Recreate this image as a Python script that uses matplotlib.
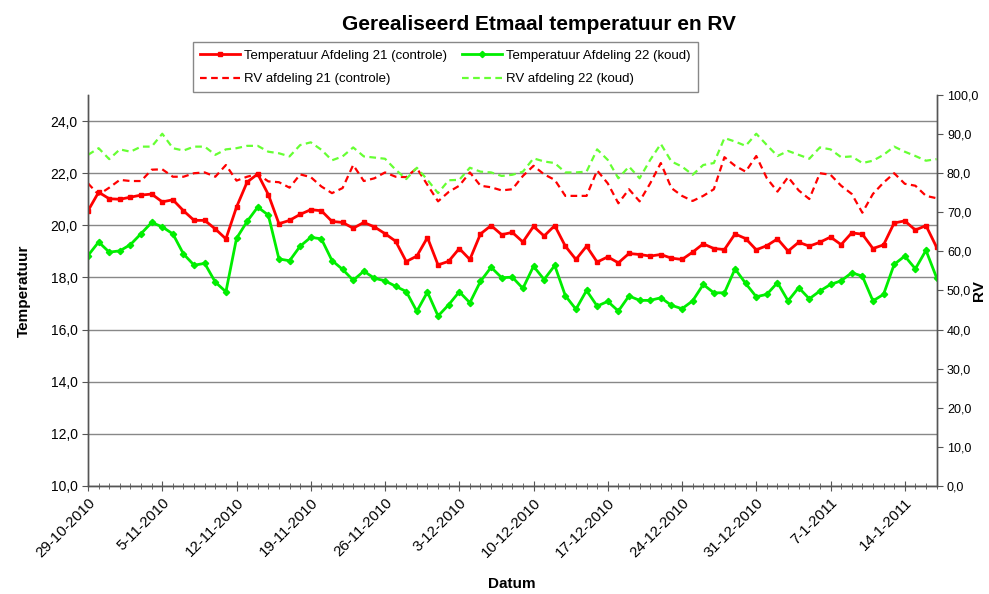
import matplotlib
matplotlib.use("Agg")
import matplotlib.pyplot as plt
import matplotlib.dates as mdates
from matplotlib.ticker import FuncFormatter, FixedLocator
import pandas as pd

plt.rcParams['font.family'] = ['Liberation Sans', 'DejaVu Sans']

dates = pd.date_range("2010-10-29", "2011-01-17", freq="D")

temp21 = [20.56, 21.27, 21.02, 21.0, 21.08, 21.16, 21.2, 20.9, 20.98, 20.56, 20.19, 20.19,
          19.86, 19.48, 20.70, 21.66, 21.97, 21.18, 20.06, 20.19, 20.42, 20.6, 20.56,
          20.15, 20.11, 19.89, 20.11, 19.94, 19.68, 19.39, 18.61, 18.82, 19.53, 18.48, 18.62,
          19.11, 18.69, 19.67, 19.99, 19.64, 19.73, 19.36, 19.96, 19.59, 19.99, 19.2,
          18.69, 19.2, 18.59, 18.79, 18.56, 18.92, 18.88, 18.82, 18.88, 18.74, 18.69,
          18.97, 19.29, 19.11, 19.07, 19.67, 19.49, 19.06, 19.22, 19.48, 19.01, 19.35, 19.2,
          19.35, 19.55, 19.26, 19.71, 19.66, 19.11, 19.25, 20.09, 20.17, 19.82, 19.99, 19.16]

temp22 = [18.84, 19.36, 18.97, 19.02, 19.26, 19.68, 20.11, 19.94, 19.67, 18.9, 18.47, 18.54,
          17.82, 17.45, 19.5, 20.15, 20.7, 20.39, 18.71, 18.64, 19.2, 19.54, 19.48,
          18.65, 18.31, 17.89, 18.24, 17.97, 17.87, 17.66, 17.46, 16.7, 17.44, 16.52, 16.95,
          17.45, 17.03, 17.85, 18.39, 17.99, 18.01, 17.58, 18.43, 17.92, 18.46, 17.3,
          16.78, 17.5, 16.9, 17.08, 16.71, 17.29, 17.12, 17.12, 17.22, 16.93, 16.8,
          17.1, 17.73, 17.41, 17.41, 18.33, 17.77, 17.26, 17.35, 17.8, 17.1, 17.61, 17.18,
          17.48, 17.73, 17.87, 18.18, 18.05, 17.1, 17.35, 18.5, 18.82, 18.33, 19.04, 17.99]

rv21 = [77.4, 74.5, 76.3, 78.3, 78.0, 78.0, 80.9, 81.0, 79.1, 79.1, 80.0, 80.2,
        79.1, 82.1, 78.1, 79.1, 79.8, 77.9, 77.7, 76.3, 79.7, 79.0, 76.6,
        74.9, 76.2, 82.1, 78.0, 78.7, 80.2, 79.1, 79.0, 81.3, 77.0, 72.8, 75.2,
        76.8, 80.2, 76.8, 76.4, 75.6, 75.9, 79.3, 81.9, 79.7, 78.3, 74.2,
        74.2, 74.2, 80.7, 77.4, 72.3, 75.9, 72.8, 77.4, 82.6, 76.2, 74.2,
        72.9, 74.2, 75.9, 84.1, 81.9, 80.4, 84.4, 78.7, 75.3, 79.0, 75.6, 73.4,
        80.0, 79.6, 76.8, 74.7, 69.9, 74.7, 77.6, 80.0, 77.3, 76.8, 74.2, 73.6]

rv22 = [84.7, 86.4, 83.6, 86.1, 85.5, 86.8, 86.8, 90.1, 86.4, 85.8, 86.8, 86.8,
        84.7, 86.1, 86.4, 87.0, 87.0, 85.5, 85.1, 84.3, 87.2, 87.9, 86.0,
        83.3, 84.3, 86.6, 84.3, 84.0, 83.7, 80.9, 78.5, 81.4, 78.3, 74.9, 78.2,
        78.3, 81.4, 80.4, 80.2, 79.3, 79.6, 80.4, 83.8, 83.0, 82.6, 80.2,
        80.2, 80.4, 86.1, 83.4, 78.7, 81.7, 78.7, 83.4, 87.5, 83.0, 81.7,
        79.6, 82.1, 82.6, 89.0, 88.1, 87.0, 90.1, 87.2, 84.4, 85.7, 84.7, 83.7,
        86.6, 86.1, 84.1, 84.3, 82.6, 83.2, 84.7, 86.8, 85.5, 84.4, 83.2, 83.6]

labels = ["Temperatuur Afdeling 21 (controle)", "Temperatuur Afdeling 22 (koud)",
          "RV afdeling 21 (controle)", "RV afdeling 22 (koud)"]

RED = "#FF0000"
GREEN = "#00EE00"
LGREEN = "#66FF33"

fig = plt.figure(figsize=(9.89, 5.94), dpi=100)
ax = fig.add_axes([0.089, 0.182, 0.858, 0.658])
ax2 = ax.twinx()

l1, = ax.plot(dates, temp21, color=RED, lw=2.0, marker="s", ms=3.3, zorder=3)
l2, = ax.plot(dates, temp22, color=GREEN, lw=2.0, marker="D", ms=3.2, zorder=3)
l3, = ax2.plot(dates, rv21, color=RED, lw=1.6, dashes=(3, 2))
l4, = ax2.plot(dates, rv22, color=LGREEN, lw=1.6, dashes=(3, 2))

ax.set_xlim(dates[0], dates[-1])
ax.set_ylim(10, 25)
ax.set_yticks([10, 12, 14, 16, 18, 20, 22, 24])
ax2.set_ylim(0, 100)
ax2.set_yticks(range(0, 101, 10))

comma = FuncFormatter(lambda v, p: f"{v:.1f}".replace(".", ","))
ax.yaxis.set_major_formatter(comma)
ax2.yaxis.set_major_formatter(comma)

major_dates = dates[::7]
ax.xaxis.set_major_locator(FixedLocator(mdates.date2num(major_dates.to_pydatetime())))
ax.xaxis.set_minor_locator(FixedLocator(mdates.date2num(dates.to_pydatetime())))
ax.xaxis.set_major_formatter(FuncFormatter(
    lambda v, p: (lambda d: f"{d.day}-{d.month}-{d.year}")(mdates.num2date(v))))

ax.grid(axis="y", color="#888888", lw=1.0)
ax.set_axisbelow(True)

for a in (ax, ax2):
    a.spines["top"].set_visible(False)
    for s in ("left", "right", "bottom"):
        a.spines[s].set_color("#555555")
        a.spines[s].set_linewidth(1.0)

ax.tick_params(axis="x", which="major", direction="inout", length=7, labelsize=10.8,
               color="#555555", labelrotation=45)
ax.tick_params(axis="x", which="minor", direction="inout", length=4, color="#555555")
for t in ax.get_xticklabels():
    t.set_ha("right")
    t.set_rotation_mode("anchor")
ax.tick_params(axis="y", direction="out", length=4, labelsize=10, color="#555555")
ax2.tick_params(axis="y", direction="out", length=4, labelsize=9, color="#555555")

ax.set_xlabel("Datum", fontsize=11, fontweight="bold", labelpad=12)
ax.set_ylabel("Temperatuur", fontsize=11, fontweight="bold", labelpad=14)
fig.text(0.997, 0.511, "RV", rotation=90, ha="right", va="center",
         fontsize=11, fontweight="bold")

fig.suptitle("Gerealiseerd Etmaal temperatuur en RV", fontsize=15, fontweight="bold",
             x=0.545, y=0.975)

leg = fig.legend([l1, l3, l2, l4], [labels[0], labels[2], labels[1], labels[3]],
                 ncol=2, loc="upper left", bbox_to_anchor=(0.195, 0.929),
                 fontsize=9.5, frameon=True, fancybox=False,
                 edgecolor="#888888", framealpha=1, handlelength=3.0, numpoints=1,
                 labelspacing=0.85, borderaxespad=0, handletextpad=0.3, borderpad=0.55,
                 columnspacing=1.2)
leg.get_frame().set_linewidth(1.0)

fig.savefig("out.png", dpi=100)
